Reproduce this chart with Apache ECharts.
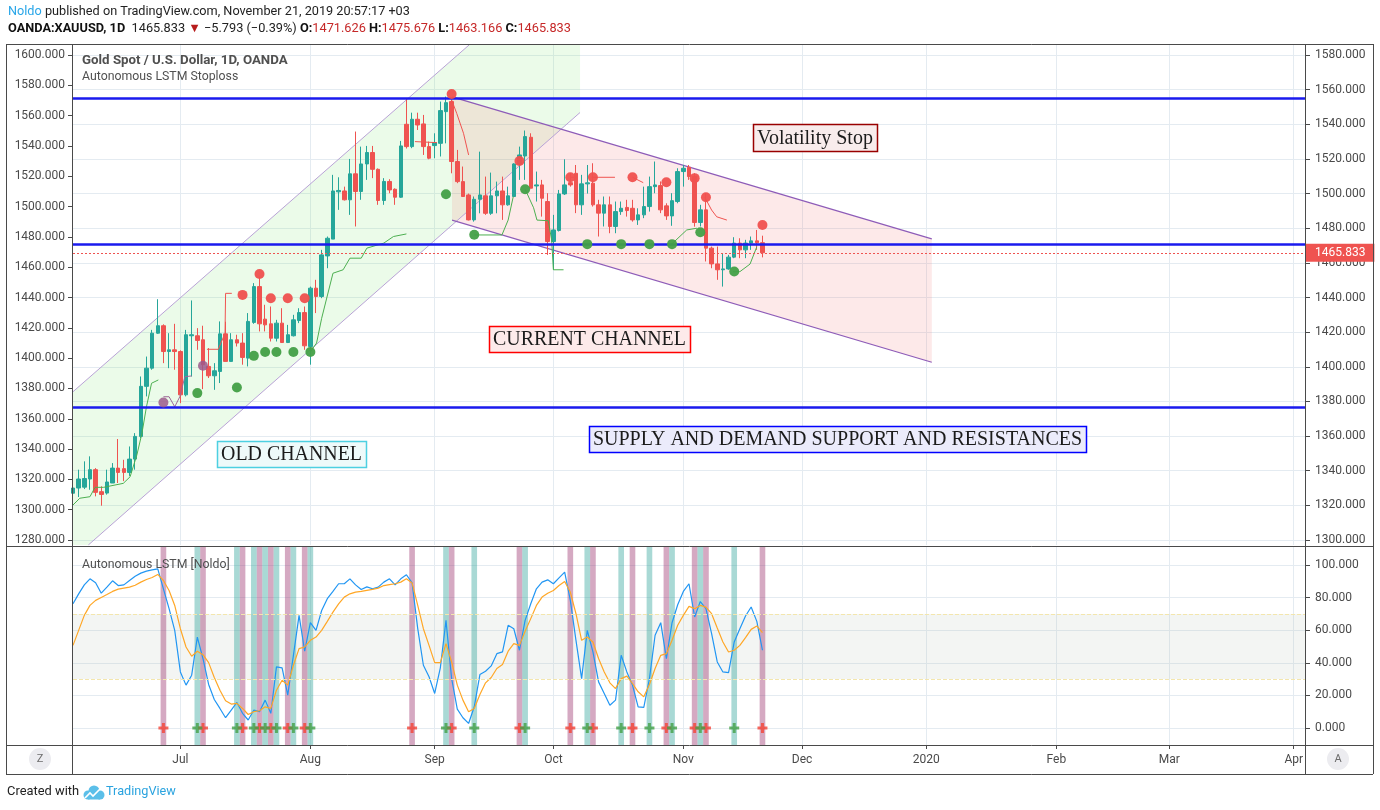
<!DOCTYPE html>
<html>
<head>
<meta charset="utf-8">
<title>XAUUSD 1D - Autonomous LSTM Stoploss</title>
<script src="https://cdn.jsdelivr.net/npm/echarts@6/dist/echarts.min.js"></script>
<style>
  html, body { margin: 0; padding: 0; background: #fff; }
  #chart { width: 1380px; height: 810px; }
</style>
</head>
<body>
<div id="chart"></div>
<script>
// trading days (weekdays) shown on the time scale
const firstDay = [2019, 5, 4];
const lastDay = [2020, 3, 3];
const monthTicks = {
  '2019-07': 'Jul', '2019-08': 'Aug', '2019-09': 'Sep', '2019-10': 'Oct', '2019-11': 'Nov',
  '2019-12': 'Dec', '2020-01': '2020', '2020-02': 'Feb', '2020-03': 'Mar', '2020-04': 'Apr'
};

// daily candles from Jun 4 2019: [open, high, low, close]
const ohlc = [
  [1327.0, 1333.0, 1322.0, 1330.0], [1330.0, 1340.6, 1324.8, 1335.2], [1330.5, 1345.4, 1329.4, 1335.5],
  [1335.2, 1348.3, 1329.0, 1340.6], [1340.6, 1341.5, 1325.2, 1327.5], [1327.9, 1331.0, 1319.8, 1326.3],
  [1327.1, 1340.6, 1326.2, 1333.5], [1332.9, 1344.4, 1332.9, 1341.5], [1341.5, 1358.3, 1332.9, 1339.0],
  [1341.2, 1346.3, 1334.0, 1339.0], [1339.0, 1354.0, 1337.0, 1346.7], [1346.7, 1361.7, 1340.6, 1359.8],
  [1359.8, 1394.4, 1358.8, 1388.7], [1388.7, 1405.9, 1382.9, 1399.2], [1399.2, 1421.3, 1398.3, 1419.4],
  [1419.4, 1439.0, 1419.0, 1423.7], [1423.7, 1424.5, 1402.1, 1408.8], [1408.8, 1419.4, 1399.2, 1409.8],
  [1409.8, 1424.8, 1398.3, 1408.8], [1408.8, 1409.5, 1379.0, 1383.8], [1383.8, 1421.3, 1382.9, 1418.5],
  [1417.9, 1438.3, 1394.4, 1418.5], [1417.9, 1422.3, 1409.8, 1415.2], [1415.6, 1423.7, 1387.1, 1401.2],
  [1400.2, 1410.8, 1393.5, 1394.8], [1394.8, 1402.1, 1386.7, 1397.7], [1397.3, 1426.2, 1390.6, 1419.0],
  [1419.0, 1426.0, 1403.0, 1403.1], [1403.1, 1419.4, 1403.0, 1415.6], [1415.6, 1418.5, 1411.7, 1413.7],
  [1413.7, 1419.4, 1401.2, 1405.4], [1405.0, 1431.0, 1400.2, 1426.2], [1425.6, 1448.3, 1424.8, 1446.3],
  [1446.3, 1452.1, 1420.4, 1424.8], [1427.5, 1435.8, 1420.4, 1424.2], [1424.8, 1434.8, 1414.6, 1416.5],
  [1416.5, 1427.1, 1414.6, 1425.2], [1425.2, 1433.8, 1413.8, 1414.0], [1414.0, 1424.2, 1413.7, 1418.5],
  [1417.9, 1430.0, 1417.5, 1427.1], [1426.7, 1433.8, 1425.2, 1431.3], [1431.3, 1434.8, 1409.8, 1412.1],
  [1411.7, 1446.3, 1401.2, 1445.4], [1445.4, 1450.2, 1431.0, 1440.6], [1440.6, 1467.5, 1439.6, 1464.6],
  [1464.0, 1475.2, 1456.9, 1474.2], [1473.7, 1510.8, 1473.7, 1501.5], [1501.0, 1509.4, 1490.6, 1501.8],
  [1501.5, 1504.0, 1496.0, 1496.4], [1496.4, 1520.0, 1487.7, 1511.4], [1511.4, 1535.8, 1481.0, 1501.2],
  [1501.2, 1527.1, 1496.4, 1517.1], [1517.1, 1527.5, 1507.9, 1523.7], [1523.7, 1527.5, 1508.9, 1514.0],
  [1514.0, 1514.5, 1493.5, 1496.0], [1496.0, 1508.9, 1493.5, 1507.0], [1507.0, 1508.3, 1500.2, 1502.1],
  [1502.5, 1503.0, 1493.5, 1497.9], [1497.9, 1530.4, 1497.5, 1527.5], [1540.0, 1555.0, 1526.0, 1527.1],
  [1527.1, 1546.7, 1526.2, 1542.9], [1542.9, 1546.7, 1536.7, 1539.6], [1540.2, 1545.4, 1522.3, 1527.1],
  [1527.1, 1530.0, 1519.8, 1520.4], [1527.7, 1534.8, 1520.4, 1529.4], [1529.0, 1553.1, 1521.4, 1547.9],
  [1547.3, 1556.0, 1529.0, 1552.5], [1553.1, 1554.4, 1511.7, 1518.5], [1518.5, 1525.2, 1506.0, 1506.9],
  [1506.9, 1515.6, 1498.0, 1498.3], [1499.2, 1500.0, 1484.5, 1484.8], [1484.8, 1498.3, 1483.8, 1496.7],
  [1496.7, 1524.2, 1488.6, 1499.2], [1498.7, 1509.8, 1487.7, 1488.6], [1488.6, 1512.1, 1487.7, 1498.7],
  [1498.7, 1506.9, 1488.6, 1501.5], [1501.5, 1509.8, 1484.8, 1493.5], [1493.5, 1504.0, 1493.0, 1498.7],
  [1498.3, 1517.5, 1498.0, 1517.1], [1517.1, 1527.1, 1507.9, 1522.3], [1521.7, 1536.4, 1507.9, 1532.9],
  [1532.5, 1534.8, 1503.0, 1503.1], [1504.4, 1512.7, 1495.4, 1505.0], [1505.0, 1507.9, 1486.7, 1497.3],
  [1495.4, 1500.2, 1464.6, 1472.3], [1472.3, 1487.7, 1456.0, 1479.0], [1478.7, 1502.1, 1478.1, 1499.8],
  [1499.8, 1519.8, 1499.2, 1505.0], [1506.3, 1511.7, 1504.0, 1505.0], [1511.7, 1516.5, 1488.7, 1493.5],
  [1493.5, 1510.8, 1487.7, 1505.6], [1505.6, 1516.5, 1500.0, 1506.2], [1506.0, 1517.5, 1492.5, 1493.5],
  [1493.5, 1496.4, 1475.2, 1488.7], [1488.7, 1498.3, 1481.0, 1493.5], [1493.5, 1498.3, 1477.1, 1481.0],
  [1481.0, 1495.4, 1477.1, 1489.6], [1489.6, 1495.4, 1487.7, 1491.5], [1492.0, 1496.4, 1486.7, 1490.2],
  [1491.5, 1496.4, 1483.8, 1484.8], [1484.8, 1491.5, 1481.9, 1487.7], [1487.7, 1504.0, 1485.8, 1492.5],
  [1492.5, 1509.8, 1489.6, 1504.0], [1504.0, 1518.5, 1500.2, 1505.0], [1504.6, 1507.0, 1488.7, 1490.6],
  [1492.9, 1494.4, 1484.8, 1487.1], [1487.1, 1500.2, 1481.4, 1495.9], [1495.4, 1514.6, 1494.4, 1512.7],
  [1512.7, 1516.5, 1504.0, 1514.6], [1515.2, 1516.5, 1507.9, 1509.8], [1509.8, 1511.7, 1480.9, 1483.3],
  [1483.3, 1493.5, 1481.0, 1490.6], [1490.6, 1500.2, 1460.8, 1468.5], [1468.5, 1469.4, 1456.9, 1459.4],
  [1459.4, 1469.4, 1450.2, 1456.0], [1456.0, 1465.6, 1446.3, 1456.5], [1456.5, 1464.6, 1456.0, 1463.3],
  [1463.3, 1474.8, 1462.7, 1471.4], [1471.4, 1474.2, 1462.7, 1467.5], [1467.5, 1473.3, 1462.7, 1471.4],
  [1471.4, 1475.2, 1467.5, 1472.7], [1472.7, 1479.0, 1467.5, 1471.6], [1471.626, 1475.676, 1463.166, 1465.833]
];
const lastClose = 1465.833;

// horizontal supply / demand levels
const supportLevels = [1554.8, 1471.0, 1376.9];

// channels, [bar index, price] anchors
const oldChannelUpper = [[0, 1385.6], [70.08, 1585.77]];
const oldChannelLower = [[2.71, 1297.11], [89.72, 1546.8]];
const oldChannelFill = [[0, 1385.6], [70.08, 1585.77], [89.72, 1585.77], [89.72, 1546.8], [2.71, 1297.11], [0, 1297.11]];
const curChannelUpper = [[67.07, 1555.8], [151.96, 1473.8]];
const curChannelLower = [[67.07, 1484.7], [151.96, 1402.6]];

// stoploss markers and trailing stop lines, [bar index, price]
const sellDots = [[30, 1441.5], [33, 1453.6], [35, 1439.6], [38, 1439.6], [41, 1439.6], [67, 1557.5],
  [79, 1518.8], [88, 1509.4], [92, 1509.4], [99, 1509.4], [105, 1506.5], [110, 1508.9], [112, 1497.9], [122, 1481.9]];
const flipDots = [[16, 1379.4], [23, 1400.6]];
const buyDots = [[22, 1384.8], [29, 1388.0], [32, 1406.3], [34, 1408.5], [36, 1408.5], [39, 1408.5], [42, 1408.5],
  [66, 1499.6], [71, 1476.2], [80, 1502.5], [91, 1470.8], [97, 1470.8], [102, 1470.8], [106, 1470.8], [111, 1477.7], [117, 1455.0]];
const greenStopA = [[0, 1320.2], [1.2, 1324.1], [3, 1325.0], [3.9, 1330.4], [5.4, 1330.4], [8.9, 1332.7], [10.1, 1336.5],
  [11.3, 1349.1], [12.2, 1361.6], [13, 1376.9], [13.9, 1390.5], [15.1, 1392.4]];
const purpleStopA = [[16, 1382.7], [17, 1382.7], [18, 1376.9], [18.9, 1382.7], [19.8, 1394.3], [21, 1394.7]];
const redStopB = [[23.7, 1410.1], [25.7, 1410.1], [26.9, 1419.3], [27, 1442.4], [28.1, 1442.4]];
const greenStopB = [[42, 1408.6], [43.1, 1413.7], [44, 1428.0], [46, 1454.0], [47.8, 1456.0], [49, 1462.7],
  [51, 1462.7], [52, 1468.5], [55, 1471.4], [56.7, 1475.2], [59, 1476.7]];
const redStopC = [[60.5, 1530.0], [64.4, 1529.4]];
const redStopD = [[67, 1554.0], [67.9, 1546.3], [69.1, 1534.8], [70, 1522.3]];
const greenStopE = [[71, 1476.1], [75.9, 1476.1], [77, 1484.7], [77.9, 1498.2]];
const greenStopF = [[80, 1502.5], [81.5, 1491.8], [82.1, 1484.7], [84.1, 1484.3], [84.7, 1473.2], [85, 1456.0], [86.8, 1456.0]];
const redStopG1 = [[88, 1509.4], [89.1, 1509.4]];
const redStopG2 = [[91.8, 1509.4], [95.9, 1509.4]];
const redStopG3 = [[99, 1509.4], [100.9, 1506.3]];
const greenStopI = [[105.9, 1470.7], [108.6, 1479.0], [110.4, 1480.0]];
const redStopH = [[111.8, 1497.8], [113, 1490.5], [113.9, 1486.6], [115.7, 1484.7]];
const greenStopJ = [[116.8, 1454.9], [118, 1454.9], [119.8, 1459.3], [121, 1469.3]];

// Autonomous LSTM oscillator, one value per bar from Jun 4
const lstmBlue = [76.2, 82.3, 87.8, 91.5, 89.1, 82.7, 86.4, 90.3, 87.4, 87.8, 90.5, 93.1, 95.0, 96.2, 97.0, 97.6,
  85.4, 73.2, 59.9, 34.4, 26.3, 32.4, 55.8, 42.6, 26.7, 17.5, 12.0, 6.3, 11.0, 15.7, 9.0, 4.9, 11.0, 10.0, 17.1, 9.0,
  37.5, 36.9, 20.2, 44.6, 69.1, 47.1, 64.6, 59.9, 72.1, 79.3, 83.8, 88.5, 88.5, 91.5, 87.8, 85.0, 86.6, 85.4, 86.4,
  89.5, 91.5, 87.8, 91.5, 94.0, 89.0, 61.0, 38.5, 31.4, 21.2, 36.9, 66.0, 30.3, 11.6, 6.3, 2.8, 13.0, 32.8, 34.8,
  38.1, 45.6, 46.7, 63.0, 60.9, 47.7, 66.0, 76.2, 85.4, 89.5, 90.9, 88.5, 92.1, 95.6, 78.3, 53.8, 30.3, 59.9, 46.7,
  28.3, 21.2, 14.0, 17.1, 44.6, 34.4, 26.3, 13.0, 12.6, 30.3, 56.9, 64.6, 42.6, 64.6, 75.6, 83.8, 88.5, 68.1, 77.6,
  73.2, 57.9, 40.5, 34.4, 34.0, 52.8, 60.9, 68.7, 74.2, 65.4, 47.7];
const lstmOrange = [50.7, 59.9, 69.1, 75.2, 78.3, 80.1, 81.9, 83.8, 85.2, 85.8, 86.4, 87.6, 89.5, 91.1, 92.3, 94.2,
  90.5, 84.4, 75.2, 60.9, 49.7, 44.0, 47.1, 45.0, 40.1, 31.0, 23.2, 16.7, 14.7, 15.1, 12.0, 8.3, 10.0, 10.6, 13.0,
  12.0, 23.2, 29.3, 26.3, 38.5, 48.7, 49.7, 53.8, 55.8, 59.9, 65.4, 71.1, 76.2, 80.3, 82.3, 83.4, 83.8, 84.4, 85.0,
  85.8, 87.4, 88.0, 88.5, 89.5, 91.5, 89.0, 75.2, 60.9, 50.7, 40.1, 40.1, 51.8, 40.5, 26.3, 17.1, 10.0, 12.0, 20.6,
  27.7, 31.0, 36.5, 38.9, 47.1, 51.8, 50.7, 59.3, 67.1, 75.2, 80.3, 82.7, 84.4, 87.4, 89.9, 83.4, 70.1, 53.8, 55.8,
  52.8, 42.6, 34.4, 27.7, 24.2, 30.3, 31.8, 27.3, 22.2, 19.1, 26.7, 36.5, 44.6, 45.6, 53.8, 63.0, 69.1, 74.6, 73.2,
  75.2, 74.2, 70.1, 61.3, 52.8, 46.6, 47.7, 50.7, 55.4, 60.5, 62.6, 58.5];
const bandLow = 30, bandHigh = 70;
const sellSignals = [16, 23, 30, 33, 35, 38, 41, 60, 67, 79, 88, 92, 99, 105, 110, 112, 122];
const buySignals = [22, 29, 32, 34, 36, 39, 42, 66, 71, 80, 91, 97, 102, 106, 111, 117];

// ---------------------------------------------------------------

const dates = [];
for (let d = new Date(Date.UTC(...firstDay)); d <= new Date(Date.UTC(...lastDay)); d.setUTCDate(d.getUTCDate() + 1)) {
  const wd = d.getUTCDay();
  if (wd !== 0 && wd !== 6) dates.push(d.toISOString().slice(0, 10));
}
const lastIdx = dates.length - 1;
const isMonthStart = dates.map((d, i) => i > 0 && d.slice(0, 7) !== dates[i - 1].slice(0, 7) && !!monthTicks[d.slice(0, 7)]);
const monthInterval = (i) => isMonthStart[i];

const UI = 'Roboto, "Noto Sans", sans-serif';
const SERIF = '"Liberation Serif", "DejaVu Serif", serif';
const GRID_C = '#e4ebf1';
const AXIS_C = '#4a4a4a';
const UP = '#26a69a', DOWN = '#ef5350';

const measureCtx = document.createElement('canvas').getContext('2d');
function fitSize(text, width, family, weight) {
  measureCtx.font = (weight || 'normal') + ' 100px ' + family;
  return 100 * width / measureCtx.measureText(text).width;
}

const L = 73, R = 1380 - 1305;
const chart = echarts.init(document.getElementById('chart'), null, { renderer: 'canvas' });

const hiddenCat = (g) => ({ type: 'category', gridIndex: g, data: dates, boundaryGap: false, show: false });
const priceLabel = { color: AXIS_C, fontFamily: UI, fontSize: 12, formatter: v => v.toFixed(3) };

function polygonSeries(points, fill) {
  return {
    type: 'custom', xAxisIndex: 4, yAxisIndex: 0, z: 1, silent: true, clip: true,
    data: [[0, 1400]],
    renderItem: (p, api) => ({ type: 'polygon', shape: { points: points.map(pt => api.coord(pt)) }, style: { fill } })
  };
}
function lineSeries(points, color, width, z) {
  return {
    type: 'line', xAxisIndex: 4, yAxisIndex: 0, data: points, symbol: 'none', silent: true, z: z || 4,
    lineStyle: { color, width: width || 1 }
  };
}

const stopLines = [
  [greenStopA, '#4caf50'], [purpleStopA, '#9c6797'], [redStopB, '#ef5350'], [greenStopB, '#4caf50'],
  [redStopC, '#ef5350'], [redStopD, '#ef5350'], [greenStopE, '#4caf50'], [greenStopF, '#4caf50'],
  [redStopG1, '#ef5350'], [redStopG2, '#ef5350'], [redStopG3, '#ef5350'], [greenStopI, '#4caf50'],
  [redStopH, '#ef5350'], [greenStopJ, '#4caf50']
];

const crossPath = 'path://M3.5,0H6.5V3.5H10V6.5H6.5V10H3.5V6.5H0V3.5H3.5Z';

const option = {
  animation: false,
  grid: [
    { left: L, right: R, top: 45, bottom: 810 - 545 },
    { left: L, right: R, top: 55, bottom: 810 - 540 },
    { left: L, right: R, top: 547, bottom: 810 - 745 },
    { left: L, right: R, top: 565, bottom: 810 - 728 }
  ],
  xAxis: [
    {
      type: 'category', gridIndex: 0, data: dates, boundaryGap: false,
      axisLine: { show: false }, axisTick: { show: false }, axisLabel: { show: false },
      splitLine: { show: true, interval: monthInterval, lineStyle: { color: GRID_C } }
    },
    hiddenCat(1),
    {
      type: 'category', gridIndex: 2, data: dates, boundaryGap: false,
      axisLine: { show: false },
      axisTick: { show: true, interval: monthInterval, length: 4, lineStyle: { color: AXIS_C } },
      axisLabel: {
        show: true, interval: monthInterval, margin: 9, color: AXIS_C, fontFamily: UI, fontSize: 12,
        formatter: v => monthTicks[v.slice(0, 7)] || ''
      },
      splitLine: { show: true, interval: monthInterval, lineStyle: { color: GRID_C } }
    },
    hiddenCat(3),
    { type: 'value', gridIndex: 0, min: 0, max: lastIdx, show: false },
    { type: 'value', gridIndex: 2, min: 0, max: lastIdx, show: false }
  ],
  yAxis: [
    { type: 'value', gridIndex: 0, min: 1297.11, max: 1585.77, show: false },
    {
      type: 'value', gridIndex: 1, position: 'right', min: 1300, max: 1580, interval: 20,
      axisLine: { show: false }, axisTick: { show: true, length: 5, lineStyle: { color: AXIS_C } },
      axisLabel: Object.assign({ margin: 10 }, priceLabel),
      splitLine: { show: true, lineStyle: { color: GRID_C } }
    },
    {
      type: 'value', gridIndex: 1, position: 'left', min: 1280, max: 1600, interval: 20,
      axisLine: { show: false }, axisTick: { show: true, length: 5, lineStyle: { color: AXIS_C } },
      axisLabel: Object.assign({ margin: 8 }, priceLabel),
      splitLine: { show: false }
    },
    { type: 'value', gridIndex: 2, min: 0, max: 1, show: false },
    { type: 'value', gridIndex: 2, min: -10.43, max: 111.04, show: false },
    {
      type: 'value', gridIndex: 3, position: 'right', min: 0, max: 100, interval: 20,
      axisLine: { show: false }, axisTick: { show: true, length: 5, lineStyle: { color: AXIS_C } },
      axisLabel: Object.assign({ margin: 10 }, priceLabel),
      splitLine: { show: true, lineStyle: { color: GRID_C } }
    }
  ],
  series: [
    polygonSeries(oldChannelFill, 'rgba(120,230,110,0.15)'),
    polygonSeries(curChannelUpper.concat(curChannelLower.slice().reverse()), 'rgba(245,120,120,0.16)'),
    lineSeries(oldChannelUpper, '#b9a3d6', 1, 2),
    lineSeries(oldChannelLower, '#b9a3d6', 1, 2),
    lineSeries(curChannelUpper, '#8e5cb8', 1.2, 2),
    lineSeries(curChannelLower, '#8e5cb8', 1.2, 2),
    {
      type: 'candlestick', xAxisIndex: 0, yAxisIndex: 0, z: 3, barWidth: 4,
      data: ohlc.map(r => [r[0], r[3], r[2], r[1]]),
      itemStyle: { color: UP, color0: DOWN, borderColor: UP, borderColor0: DOWN, borderWidth: 1 },
      markLine: {
        silent: true, symbol: ['none', 'none'], animation: false,
        data: supportLevels.map(v => ({ yAxis: v, lineStyle: { color: '#1a1aee', width: 2.5, type: 'solid' }, label: { show: false } }))
          .concat([{
            yAxis: lastClose, lineStyle: { color: DOWN, width: 1, type: [2, 2] },
            label: {
              show: true, position: 'end', distance: 1, formatter: lastClose.toFixed(3),
              color: '#fff', backgroundColor: DOWN, padding: [3, 9, 3, 9], fontFamily: UI, fontSize: 12
            }
          }])
      }
    },
    ...stopLines.map(([pts, c]) => lineSeries(pts, c, 1, 4)),
    {
      type: 'scatter', xAxisIndex: 4, yAxisIndex: 0, z: 5, symbolSize: 10, silent: true,
      data: sellDots, itemStyle: { color: '#f0514f', opacity: 0.95 }
    },
    {
      type: 'scatter', xAxisIndex: 4, yAxisIndex: 0, z: 5, symbolSize: 10, silent: true,
      data: flipDots, itemStyle: { color: '#9c5a8c', opacity: 0.85 }
    },
    {
      type: 'scatter', xAxisIndex: 4, yAxisIndex: 0, z: 5, symbolSize: 10, silent: true,
      data: buyDots, itemStyle: { color: '#43a047', opacity: 0.95 }
    },
    {
      type: 'custom', xAxisIndex: 5, yAxisIndex: 3, z: 1, silent: true, clip: true,
      data: sellSignals.map(i => [i, 0.5, 0]).concat(buySignals.map(i => [i, 0.5, 1])),
      renderItem: (p, api) => {
        const bottom = api.coord([api.value(0), 0]);
        const top = api.coord([api.value(0), 1]);
        const w = api.size([1, 0])[0];
        return {
          type: 'rect',
          shape: { x: bottom[0] - w / 2, y: top[1], width: w, height: bottom[1] - top[1] },
          style: { fill: api.value(2) ? 'rgba(40,160,150,0.4)' : 'rgba(155,50,110,0.42)' }
        };
      }
    },
    {
      type: 'line', xAxisIndex: 2, yAxisIndex: 4, z: 3, data: lstmBlue, symbol: 'none', silent: true,
      lineStyle: { color: '#2196f3', width: 1.2 },
      markArea: {
        silent: true, itemStyle: { color: 'rgba(180,190,180,0.16)' },
        data: [[{ yAxis: bandLow }, { yAxis: bandHigh }]]
      }
    },
    {
      type: 'line', xAxisIndex: 2, yAxisIndex: 4, z: 3, data: lstmOrange, symbol: 'none', silent: true,
      lineStyle: { color: '#ffa726', width: 1.2 },
      markLine: {
        silent: true, symbol: ['none', 'none'], label: { show: false },
        lineStyle: { color: '#f3e6ad', type: 'dashed', width: 1 },
        data: [{ yAxis: bandLow }, { yAxis: bandHigh }]
      }
    },
    {
      type: 'scatter', xAxisIndex: 5, yAxisIndex: 4, z: 5, silent: true, symbol: crossPath, symbolSize: 10,
      data: sellSignals.map(i => [i, 0]), itemStyle: { color: '#f44336' }
    },
    {
      type: 'scatter', xAxisIndex: 5, yAxisIndex: 4, z: 5, silent: true, symbol: crossPath, symbolSize: 10,
      data: buySignals.map(i => [i, 0]), itemStyle: { color: '#43a047' }
    }
  ]
};

// frame, header, legends and annotation boxes
const hLine = (x1, x2, y) => ({ type: 'line', z: 50, silent: true, shape: { x1, y1: y + 0.5, x2, y2: y + 0.5 }, style: { stroke: AXIS_C, lineWidth: 1 } });
const vLine = (x, y1, y2) => ({ type: 'line', z: 50, silent: true, shape: { x1: x + 0.5, y1, x2: x + 0.5, y2 }, style: { stroke: AXIS_C, lineWidth: 1 } });

function noteBox(text, x, y, w, h, stroke, fill, lw) {
  const size = fitSize(text, w - 8, SERIF);
  return [
    { type: 'rect', z: 60, silent: true, shape: { x: x + 0.5, y: y + 0.5, width: w, height: h }, style: { fill, stroke, lineWidth: lw || 1.5 } },
    { type: 'text', z: 61, silent: true, style: { text, x: x + w / 2, y: y + h / 2 + 1, align: 'center', verticalAlign: 'middle', fill: '#1b1b1b', font: size.toFixed(1) + 'px ' + SERIF } }
  ];
}

const head1 = 'Noldo published on TradingView.com, November 21, 2019 20:57:17 +03';
const h1 = fitSize(head1, 402, UI);
const head2plain = 'OANDA:XAUUSD, 1D 1465.833 ▼ −5.793 (−0.39%) O:1471.626 H:1475.676 L:1463.166 C:1465.833';
const h2 = fitSize(head2plain, 556, UI);
const rs = (fill, weight, size) => ({ fill, fontWeight: weight, fontSize: size, fontFamily: UI });
const legendSize = fitSize('Gold Spot / U.S. Dollar, 1D, OANDA', 206, UI, 'bold');
const legendSize2 = fitSize('Autonomous LSTM Stoploss', 156, UI);
const legendSize3 = fitSize('Autonomous LSTM [Noldo]', 148, UI);

option.graphic = [
  {
    type: 'text', z: 60, silent: true,
    style: {
      x: 8, y: 12, verticalAlign: 'middle',
      text: '{a|Noldo}{b| published on TradingView.com, November 21, 2019 20:57:17 +03}',
      rich: { a: rs('#29a6e8', 'normal', h1), b: rs('#222', 'normal', h1) }
    }
  },
  {
    type: 'text', z: 60, silent: true,
    style: {
      x: 8, y: 29, verticalAlign: 'middle',
      text: '{k|OANDA:XAUUSD, 1D}{n|  1465.833 }{d|▼}{n| −5.793 (−0.39%) }{k|O:}{r|1471.626}{k| H:}{r|1475.676}{k| L:}{r|1463.166}{k| C:}{r|1465.833}',
      rich: { k: rs('#111', 'bold', h2), n: rs('#222', 'normal', h2), d: rs('#b71c1c', 'normal', h2), r: rs('#c62828', 'normal', h2) }
    }
  },
  { type: 'text', z: 60, silent: true, style: { x: 82, y: 61, verticalAlign: 'middle', text: 'Gold Spot / U.S. Dollar, 1D, OANDA', fill: '#505050', font: 'bold ' + legendSize.toFixed(1) + 'px ' + UI } },
  { type: 'text', z: 60, silent: true, style: { x: 82, y: 77, verticalAlign: 'middle', text: 'Autonomous LSTM Stoploss', fill: '#505050', font: legendSize2.toFixed(1) + 'px ' + UI } },
  { type: 'text', z: 60, silent: true, style: { x: 82, y: 565, verticalAlign: 'middle', text: 'Autonomous LSTM [Noldo]', fill: '#505050', font: legendSize3.toFixed(1) + 'px ' + UI } },

  ...noteBox('Volatility Stop', 753, 124, 124, 27, '#990000', '#f8ecec'),
  ...noteBox('CURRENT CHANNEL', 489, 326, 201, 26, '#ff0000', '#fdeaea'),
  ...noteBox('OLD CHANNEL', 217, 441, 149, 26, '#4dd0e1', '#eefafa'),
  ...noteBox('SUPPLY AND DEMAND SUPPORT AND RESISTANCES', 589, 426, 497, 26, '#0000ff', '#ebebfb'),

  hLine(6, 1373, 44), hLine(6, 1373, 546), hLine(6, 1373, 745), hLine(6, 1373, 774),
  vLine(6, 44, 774), vLine(72, 44, 774), vLine(1305, 44, 774), vLine(1373, 44, 774),

  { type: 'circle', z: 60, silent: true, shape: { cx: 40, cy: 759, r: 11 }, style: { fill: '#ececf0' } },
  { type: 'text', z: 61, silent: true, style: { x: 40, y: 759, align: 'center', verticalAlign: 'middle', text: 'Z', fill: '#6b6b6b', font: '11px ' + UI } },
  { type: 'circle', z: 60, silent: true, shape: { cx: 1338, cy: 759, r: 11 }, style: { fill: '#ececf0' } },
  { type: 'text', z: 61, silent: true, style: { x: 1338, y: 759, align: 'center', verticalAlign: 'middle', text: 'A', fill: '#6b6b6b', font: '11px ' + UI } },

  { type: 'text', z: 60, silent: true, style: { x: 7, y: 792, verticalAlign: 'middle', text: 'Created with', fill: '#222', font: fitSize('Created with', 72, UI).toFixed(1) + 'px ' + UI } },
  { type: 'circle', z: 60, silent: true, shape: { cx: 88, cy: 795, r: 4.5 }, style: { fill: '#5bbfe9' } },
  { type: 'circle', z: 60, silent: true, shape: { cx: 94, cy: 791, r: 5.5 }, style: { fill: '#5bbfe9' } },
  { type: 'circle', z: 60, silent: true, shape: { cx: 100, cy: 795, r: 4.5 }, style: { fill: '#5bbfe9' } },
  { type: 'rect', z: 60, silent: true, shape: { x: 88, y: 794, width: 12, height: 5.5 }, style: { fill: '#5bbfe9' } },
  { type: 'polyline', z: 61, silent: true, shape: { points: [[85, 798], [90, 793], [93, 796], [100, 789]] }, style: { stroke: '#fff', lineWidth: 1.6, fill: null } },
  { type: 'text', z: 60, silent: true, style: { x: 106, y: 792, verticalAlign: 'middle', text: 'TradingView', fill: '#2aa3df', font: fitSize('TradingView', 70, UI).toFixed(1) + 'px ' + UI } }
];

chart.setOption(option);
</script>
</body>
</html>
